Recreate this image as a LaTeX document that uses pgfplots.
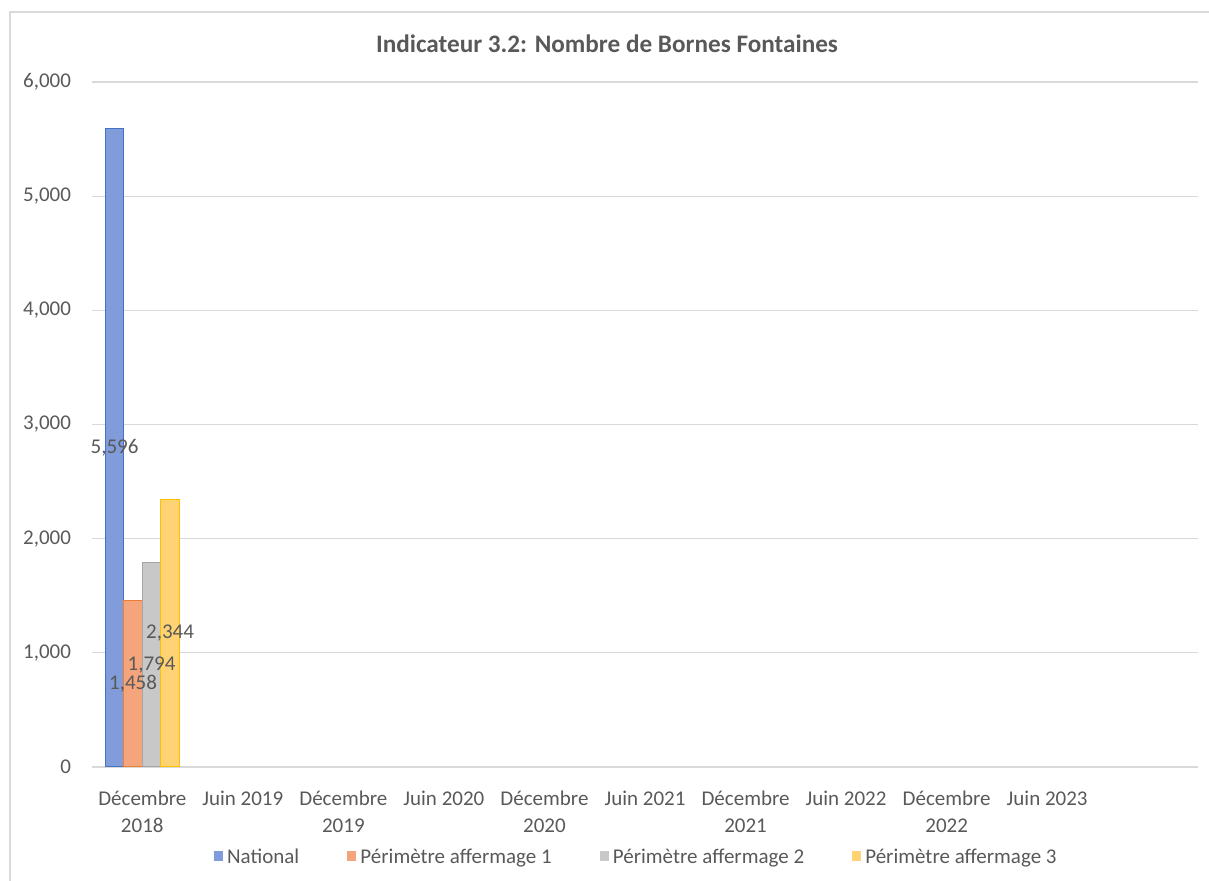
\documentclass[border=0pt]{standalone}
\usepackage{pgfplots}
\pgfplotsset{compat=1.18}
\usepackage{fontspec}
\setmainfont{Carlito}
\definecolor{txt}{RGB}{89,89,89}
\definecolor{gridc}{RGB}{217,217,217}
\definecolor{fBlue}{RGB}{128,156,218}
\definecolor{dBlue}{RGB}{68,114,196}
\definecolor{fOrange}{RGB}{245,165,124}
\definecolor{dOrange}{RGB}{237,125,49}
\definecolor{fGray}{RGB}{200,200,200}
\definecolor{dGray}{RGB}{165,165,165}
\definecolor{fYellow}{RGB}{255,210,115}
\definecolor{dYellow}{RGB}{255,192,0}
\begin{document}
\begin{tikzpicture}[x=1pt,y=1pt]
\useasboundingbox (0,0) rectangle (604.5,440.5);
\draw[gridc, line width=0.8pt] (5,0) -- (5,434.5) -- (604.5,434.5);
\node[font=\bfseries\fontsize{12.6}{15}\selectfont, text=txt] at (303.5,418.5) {Indicateur 3.2: Nombre de Bornes Fontaines};
\begin{axis}[
  at={(46pt,57pt)}, anchor=south west,
  scale only axis, width=553pt, height=342.5pt,
  xmin=-0.5, xmax=10.5, ymin=0, ymax=6000,
  ytick={0,1000,...,6000},
  xtick={0,...,9},
  xticklabels={{Décembre\\2018},{Juin 2019},{Décembre\\2019},{Juin 2020},{Décembre\\2020},{Juin 2021},{Décembre\\2021},{Juin 2022},{Décembre\\2022},{Juin 2023}},
  xticklabel style={align=center, font=\fontsize{10.5}{13.5}\selectfont, text=txt, yshift=-4pt, anchor=north},
  yticklabel style={font=\fontsize{10.5}{13.5}\selectfont, text=txt, xshift=-7pt},
  /pgf/number format/1000 sep={,},
  /pgf/number format/assume math mode=true,
  axis lines*=left,
  y axis line style={draw=none},
  x axis line style={draw=gridc, line width=0.8pt},
  tick style={draw=none},
  ymajorgrids, grid style={draw=gridc, line width=0.6pt},
  ybar=0pt, bar width=9.25pt,
  legend image code/.code={\fill[#1,draw=none] (0pt,-1.3pt) rectangle (4.6pt,3.3pt);},
  legend style={at={(0.493,-0.133)}, anchor=center, draw=none, fill=none,
    legend columns=4, font=\fontsize{10.5}{13.5}\selectfont, text=txt,
    /tikz/every even column/.append style={column sep=22pt},
    cells={anchor=west}, inner sep=0pt},
  visualization depends on={rawy \as \rawy},
  nodes near coords,
  every node near coord/.append style={anchor=center, yshift=-\rawy*0.0285417pt,
    font=\fontsize{10.5}{13.5}\selectfont, text=txt},
]
\addplot[fill=fBlue, draw=dBlue, line width=0.6pt] coordinates {(0,5596)};
\addlegendentry{National}
\addplot[fill=fOrange, draw=dOrange, line width=0.6pt] coordinates {(0,1458)};
\addlegendentry{Périmètre affermage 1}
\addplot[fill=fGray, draw=dGray, line width=0.6pt] coordinates {(0,1794)};
\addlegendentry{Périmètre affermage 2}
\addplot[fill=fYellow, draw=dYellow, line width=0.6pt] coordinates {(0,2344)};
\addlegendentry{Périmètre affermage 3}
\end{axis}
\end{tikzpicture}
\end{document}
